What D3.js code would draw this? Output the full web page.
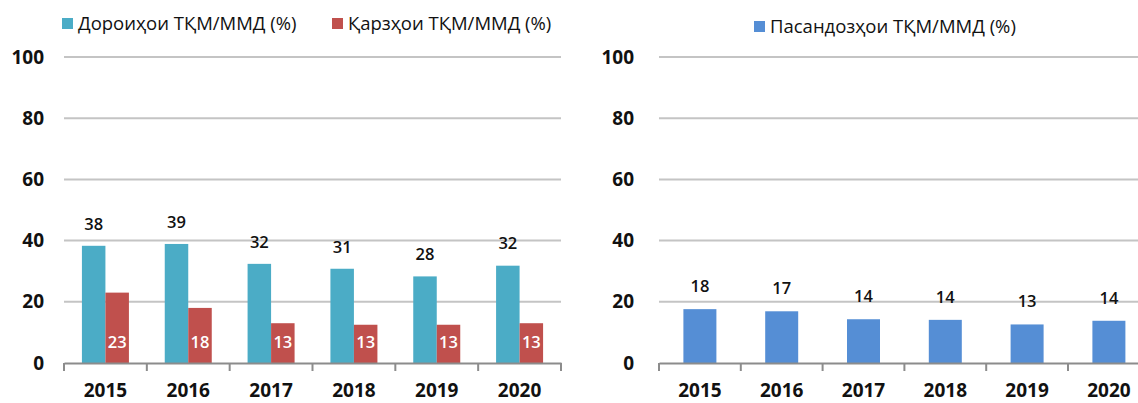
<!DOCTYPE html>
<html>
<head>
<meta charset="utf-8">
<script src="https://cdn.jsdelivr.net/npm/d3@7"></script>
<style>
	body { margin: 0; background: #fff; }
	svg { display: block; font-family: "Open Sans", "Noto Sans", sans-serif; }
</style>
</head>
<body>
<svg id="chart" width="1138" height="403"></svg>
<script>
var years = ["2015", "2016", "2017", "2018", "2019", "2020"];
var yTicks = [0, 20, 40, 60, 80, 100];

// left panel
var incomeName = "Дороиҳои ТҚМ/ММД (%)";
var incomeValues = [38.3, 38.9, 32.4, 30.8, 28.3, 31.8];
var incomeLabels = ["38", "39", "32", "31", "28", "32"];
var debtName = "Қарзҳои ТҚМ/ММД (%)";
var debtValues = [23, 18, 13, 12.5, 12.5, 13];
var debtLabels = ["23", "18", "13", "13", "13", "13"];

// right panel
var depositName = "Пасандозҳои ТҚМ/ММД (%)";
var depositValues = [17.6, 16.9, 14.3, 14.1, 12.6, 13.8];
var depositLabels = ["18", "17", "14", "14", "13", "14"];

var svg = d3.select("#chart");
var TOP = 57, BOTTOM = 363;

var yScale = d3.scaleLinear().domain([0, 100]).range([BOTTOM, TOP]);

function drawFrame(x0, x1, labelX) {
	var xScale = d3.scaleBand().domain(years).range([x0, x1]);
	var g = svg.append("g");

	// gridlines
	g.selectAll(".grid").data(yTicks.slice(1)).enter().append("line")
		.attr("x1", x0).attr("x2", Math.min(x1, 1138))
		.attr("y1", function(d) { return yScale(d); })
		.attr("y2", function(d) { return yScale(d); })
		.attr("stroke", "#c4c4c4").attr("stroke-width", 2);

	// y labels
	g.selectAll(".ylab").data(yTicks).enter().append("text")
		.attr("x", labelX)
		.attr("y", function(d) { return yScale(d); })
		.attr("dy", "0.35em")
		.attr("text-anchor", "end")
		.attr("font-size", 19).attr("font-weight", "bold").attr("fill", "#111")
		.text(function(d) { return d; });

	return { g: g, x: xScale };
}

function drawAxis(g, xScale) {
	var axis = d3.axisBottom(xScale).tickSize(0).tickPadding(21);
	var ax = g.append("g")
		.attr("transform", "translate(0," + BOTTOM + ")")
		.call(axis);
	ax.select(".domain").attr("stroke", "#8c8c8c").attr("stroke-width", 2);
	ax.selectAll("text").attr("font-size", 19).attr("font-weight", "bold")
		.attr("fill", "#111").attr("font-family", "'Open Sans', 'Noto Sans', sans-serif");
	// category separators
	var edges = xScale.domain().map(function(d) { return xScale(d); });
	edges.push(xScale(years[years.length - 1]) + xScale.bandwidth());
	ax.selectAll(".sep").data(edges).enter().append("line")
		.attr("x1", function(d) { return d; }).attr("x2", function(d) { return d; })
		.attr("y1", 0).attr("y2", 8)
		.attr("stroke", "#8c8c8c").attr("stroke-width", 2);
}

function legendItem(x, y, color, label) {
	svg.append("rect").attr("x", x).attr("y", y - 6).attr("width", 11).attr("height", 11).attr("fill", color);
	svg.append("text").attr("x", x + 16).attr("y", y).attr("dy", "0.35em")
		.attr("font-size", 18.5).attr("font-weight", 500).attr("fill", "#111").text(label);
}

// ---- left chart ----
var left = drawFrame(64, 561, 44);
var bw = 23.5;
var lx = left.x;

left.g.selectAll(".inc").data(incomeValues).enter().append("rect")
	.attr("x", function(d, i) { return lx(years[i]) + lx.bandwidth() / 2 - bw; })
	.attr("y", function(d) { return yScale(d); })
	.attr("width", bw)
	.attr("height", function(d) { return BOTTOM - yScale(d); })
	.attr("fill", "#4bacc6");

left.g.selectAll(".debt").data(debtValues).enter().append("rect")
	.attr("x", function(d, i) { return lx(years[i]) + lx.bandwidth() / 2; })
	.attr("y", function(d) { return yScale(d); })
	.attr("width", bw)
	.attr("height", function(d) { return BOTTOM - yScale(d); })
	.attr("fill", "#c0504d");

left.g.selectAll(".incl").data(incomeValues).enter().append("text")
	.attr("x", function(d, i) { return lx(years[i]) + lx.bandwidth() / 2 - bw / 2; })
	.attr("y", function(d) { return yScale(d) - 22; })
	.attr("dy", "0.35em").attr("text-anchor", "middle")
	.attr("font-size", 16.5).attr("font-weight", 600).attr("fill", "#111")
	.text(function(d, i) { return incomeLabels[i]; });

left.g.selectAll(".debtl").data(debtValues).enter().append("text")
	.attr("x", function(d, i) { return lx(years[i]) + lx.bandwidth() / 2 + bw / 2; })
	.attr("y", BOTTOM - 21)
	.attr("dy", "0.35em").attr("text-anchor", "middle")
	.attr("font-size", 16.5).attr("font-weight", 600).attr("fill", "#fff")
	.text(function(d, i) { return debtLabels[i]; });

drawAxis(left.g, lx);

legendItem(62, 24, "#4bacc6", incomeName);
legendItem(332, 24, "#c0504d", debtName);

// ---- right chart ----
var right = drawFrame(659, 659 + 6 * 81.8, 634);
var rx = right.x;
var rbw = 33;

right.g.selectAll(".dep").data(depositValues).enter().append("rect")
	.attr("x", function(d, i) { return rx(years[i]) + rx.bandwidth() / 2 - rbw / 2; })
	.attr("y", function(d) { return yScale(d); })
	.attr("width", rbw)
	.attr("height", function(d) { return BOTTOM - yScale(d); })
	.attr("fill", "#558ed5");

right.g.selectAll(".depl").data(depositValues).enter().append("text")
	.attr("x", function(d, i) { return rx(years[i]) + rx.bandwidth() / 2; })
	.attr("y", function(d) { return yScale(d) - 23; })
	.attr("dy", "0.35em").attr("text-anchor", "middle")
	.attr("font-size", 16.5).attr("font-weight", 600).attr("fill", "#111")
	.text(function(d, i) { return depositLabels[i]; });

drawAxis(right.g, rx);

legendItem(754, 27, "#558ed5", depositName);
</script>
</body>
</html>
